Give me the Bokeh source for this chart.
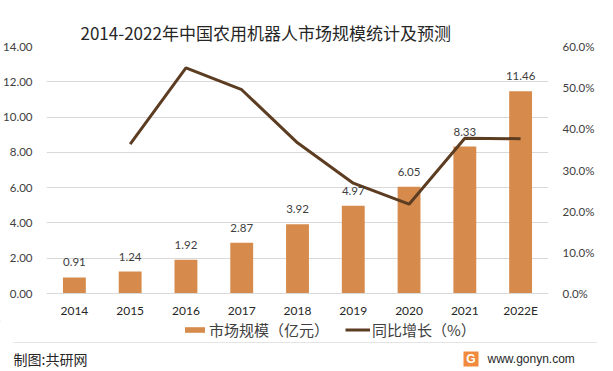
from bokeh.plotting import figure
from bokeh.layouts import column
from bokeh.models import (Range1d, LinearAxis, Legend, LegendItem, ColumnDataSource,
                          LabelSet, NumeralTickFormatter, CustomJSTickFormatter, FixedTicker)
from bokeh.core.properties import value
from bokeh.embed import file_html
from bokeh.resources import INLINE

# ---- data ----
years = ["2014", "2015", "2016", "2017", "2018", "2019", "2020", "2021", "2022E"]
market_size = [0.91, 1.24, 1.92, 2.87, 3.92, 4.97, 6.05, 8.33, 11.46]
growth_years = ["2015", "2016", "2017", "2018", "2019", "2020", "2021", "2022E"]
growth_pct = [36.3, 54.8, 49.5, 36.6, 26.8, 21.7, 37.7, 37.6]
left_ticks = [0, 2, 4, 6, 8, 10, 12, 14]
right_ticks = [0, 10, 20, 30, 40, 50, 60]

title_text = "2014-2022年中国农用机器人市场规模统计及预测"
bar_name = "市场规模（亿元）"
line_name = "同比增长（%）"
footer_left = "制图:共研网"
footer_right = "www.gonyn.com"

BAR = "#D68B4C"
LINE = "#5C3D22"
TXT = "#404040"
GRID = "#D9D9D9"
NUMFONT = "Lato"
CJK = "Noto Sans CJK SC"

W = 597
HM = 320
ML, MT, MR, MB = 36, 46, 39, 26

p = figure(x_range=years, y_range=Range1d(0, 14), width=W, height=HM,
           output_backend="svg", toolbar_location=None,
           min_border_left=ML, min_border_right=MR, min_border_top=MT, min_border_bottom=MB)
p.extra_y_ranges = {"pct": Range1d(0, 60)}

src = ColumnDataSource(dict(x=years, top=market_size, lbl=["%.2f" % v for v in market_size]))
bars = p.vbar(x="x", top="top", width=0.41, source=src, fill_color=BAR, line_color=None)
lsrc = ColumnDataSource(dict(x=growth_years, y=growth_pct))
line = p.line(x="x", y="y", source=lsrc, y_range_name="pct", line_color=LINE, line_width=3)

labels = LabelSet(x="x", y="top", text="lbl", source=src, text_align="center",
                  text_baseline="middle", y_offset=15, text_font_size="11.5px",
                  text_color=TXT, text_font=value(NUMFONT))
p.add_layout(labels)

# title
p.title.text = title_text
p.title.text_font = CJK
p.title.text_font_size = "17px"
p.title.text_font_style = "normal"
p.title.text_color = "#262626"
p.title.align = "left"
p.title.offset = 34
p.title.standoff = 4

# axes
p.yaxis.ticker = FixedTicker(ticks=left_ticks)
p.yaxis.formatter = NumeralTickFormatter(format="0.00")
ra = LinearAxis(y_range_name="pct", ticker=FixedTicker(ticks=right_ticks),
                formatter=CustomJSTickFormatter(code="return tick.toFixed(1) + '%';"))
p.add_layout(ra, "right")
for ax in [p.yaxis[0], ra]:
    ax.axis_line_color = None
    ax.major_tick_line_color = None
    ax.minor_tick_line_color = None
    ax.major_label_text_font_size = "11.5px"
    ax.major_label_text_color = TXT
    ax.major_label_text_font = NUMFONT
    ax.major_label_standoff = 8
p.xaxis.axis_line_color = GRID
p.xaxis.major_tick_line_color = None
p.xaxis.minor_tick_line_color = None
p.xaxis.major_label_text_font_size = "12px"
p.xaxis.major_label_text_color = "#262626"
p.xaxis.major_label_text_font = NUMFONT
p.xaxis.major_label_standoff = 3
p.xgrid.grid_line_color = None
p.ygrid.grid_line_color = GRID
p.ygrid.ticker = FixedTicker(ticks=left_ticks)
p.outline_line_color = None
p.x_range.range_padding = 0

# footer strip (legend + credits), pixel coordinates from its top-left
HF = 48
f = figure(x_range=Range1d(-8, W - 8), y_range=Range1d(HF, 0), frame_width=W, frame_height=HF,
           output_backend="svg", toolbar_location=None,
           x_axis_location=None, y_axis_location=None,
           min_border=0, min_border_left=0, min_border_right=0,
           min_border_top=0, min_border_bottom=0)
for fig in (p, f):
    try:
        fig.frame_align = False
    except AttributeError:
        pass
f.grid.visible = False
f.outline_line_color = None
# legend swatch renderers (off-view samples of the two series styles)
lb = f.vbar(x=[-50], top=[0], bottom=[1], width=1, fill_color=BAR, line_color=None)
ll = f.line(x=[-60, -50], y=[0, 0], line_color=LINE, line_width=3)
legend = Legend(items=[LegendItem(label=bar_name, renderers=[lb]),
                       LegendItem(label=line_name, renderers=[ll])],
                orientation="horizontal", location=(182, HF - 20),
                label_text_font=CJK, label_text_font_size="15px", label_text_color=TXT,
                glyph_width=25, glyph_height=7, label_standoff=2, spacing=16,
                padding=0, margin=0, border_line_color=None, background_fill_alpha=0,
                label_height=14)
f.add_layout(legend)
f.segment(x0=[5], y0=[22], x1=[592], y1=[22], line_color="#E4E4E4", line_width=1)
f.text(x=[5], y=[38], text=[footer_left], text_font=value(CJK), text_font_size="14px",
       text_color="#262626", text_baseline="middle", text_align="left")
f.text(x=[479], y=[38], text=[footer_right], text_font=value("Liberation Sans"),
       text_font_size="12px", text_color="#262626", text_baseline="middle", text_align="left")
f.quad(left=[455], right=[470], top=[31], bottom=[46], fill_color="#F08A3C", line_color=None)
f.text(x=[462.5], y=[38.5], text=["G"], text_font=value("Liberation Sans"),
       text_font_style="bold", text_font_size="12px", text_color="white",
       text_baseline="middle", text_align="center")

layout = column(p, f, spacing=0)
open("out.html", "w").write(file_html(layout, INLINE))
